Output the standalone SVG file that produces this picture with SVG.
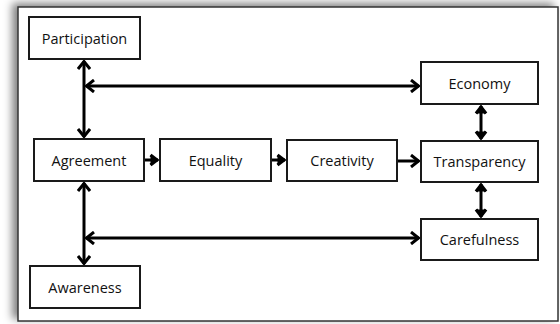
<svg xmlns="http://www.w3.org/2000/svg" width="560" height="324" viewBox="0 0 560 324">
<defs>
<filter id="sh" x="-10%" y="-10%" width="120%" height="120%">
<feDropShadow dx="-5" dy="-3" stdDeviation="4" flood-color="#000" flood-opacity="0.5"/>
</filter>
<marker id="ah" viewBox="0 0 10 14" refX="9" refY="7" markerWidth="10" markerHeight="14" markerUnits="userSpaceOnUse" orient="auto-start-reverse">
<path d="M1,1 L8.5,7 L1,13" fill="none" stroke="#000" stroke-width="3"/>
</marker>
<marker id="ah2" viewBox="0 0 10 14" refX="9" refY="7" markerWidth="10" markerHeight="14" markerUnits="userSpaceOnUse" orient="auto-start-reverse">
<path d="M1.5,2 L8,7 L1.5,12" fill="#000" stroke="#000" stroke-width="3.2" stroke-linejoin="miter"/>
</marker>
</defs>
<style>
.node rect{fill:#fff;stroke:#1a1a1a;stroke-width:2}
.node text{font-family:"Open Sans","DejaVu Sans",sans-serif;font-size:14.5px;fill:#111;text-anchor:middle;dominant-baseline:central}
.conn path{fill:none;stroke:#000;stroke-width:3;marker-end:url(#ah)}
.conn .both{marker-start:url(#ah)}
.conn .short{marker-end:url(#ah2)}
.conn .short.both{marker-start:url(#ah2)}
</style>
<rect x="18" y="7" width="540" height="314" fill="#fff" stroke="#333" stroke-width="1.5" filter="url(#sh)"/>
<g class="conn" id="connectors">
<path class="both" d="M84,61 V137"/>
<path class="both" d="M86,86 H419"/>
<path class="both" d="M84,183 V264"/>
<path class="both" d="M86,238 H419"/>
<path class="both short" d="M481,106 V139"/>
<path class="both short" d="M481,184 V217"/>
<path class="short" d="M145,160 H158"/>
<path class="short" d="M272,160 H285"/>
<path d="M398,161 H419"/>
</g>
<g class="node" id="participation"><rect x="29" y="17" width="111" height="42"/><text x="84.5" y="38">Participation</text></g>
<g class="node" id="agreement"><rect x="34" y="139" width="110" height="42"/><text x="89" y="160">Agreement</text></g>
<g class="node" id="equality"><rect x="160" y="139" width="111" height="42"/><text x="215.5" y="160">Equality</text></g>
<g class="node" id="creativity"><rect x="287" y="140" width="110" height="41"/><text x="342" y="160.5">Creativity</text></g>
<g class="node" id="transparency"><rect x="421" y="141" width="117" height="41"/><text x="479.5" y="161.5">Transparency</text></g>
<g class="node" id="economy"><rect x="421" y="62" width="117" height="42"/><text x="479.5" y="83">Economy</text></g>
<g class="node" id="carefulness"><rect x="421" y="219" width="117" height="41"/><text x="479.5" y="239.5">Carefulness</text></g>
<g class="node" id="awareness"><rect x="30" y="266" width="110" height="42"/><text x="85" y="287">Awareness</text></g>
</svg>
